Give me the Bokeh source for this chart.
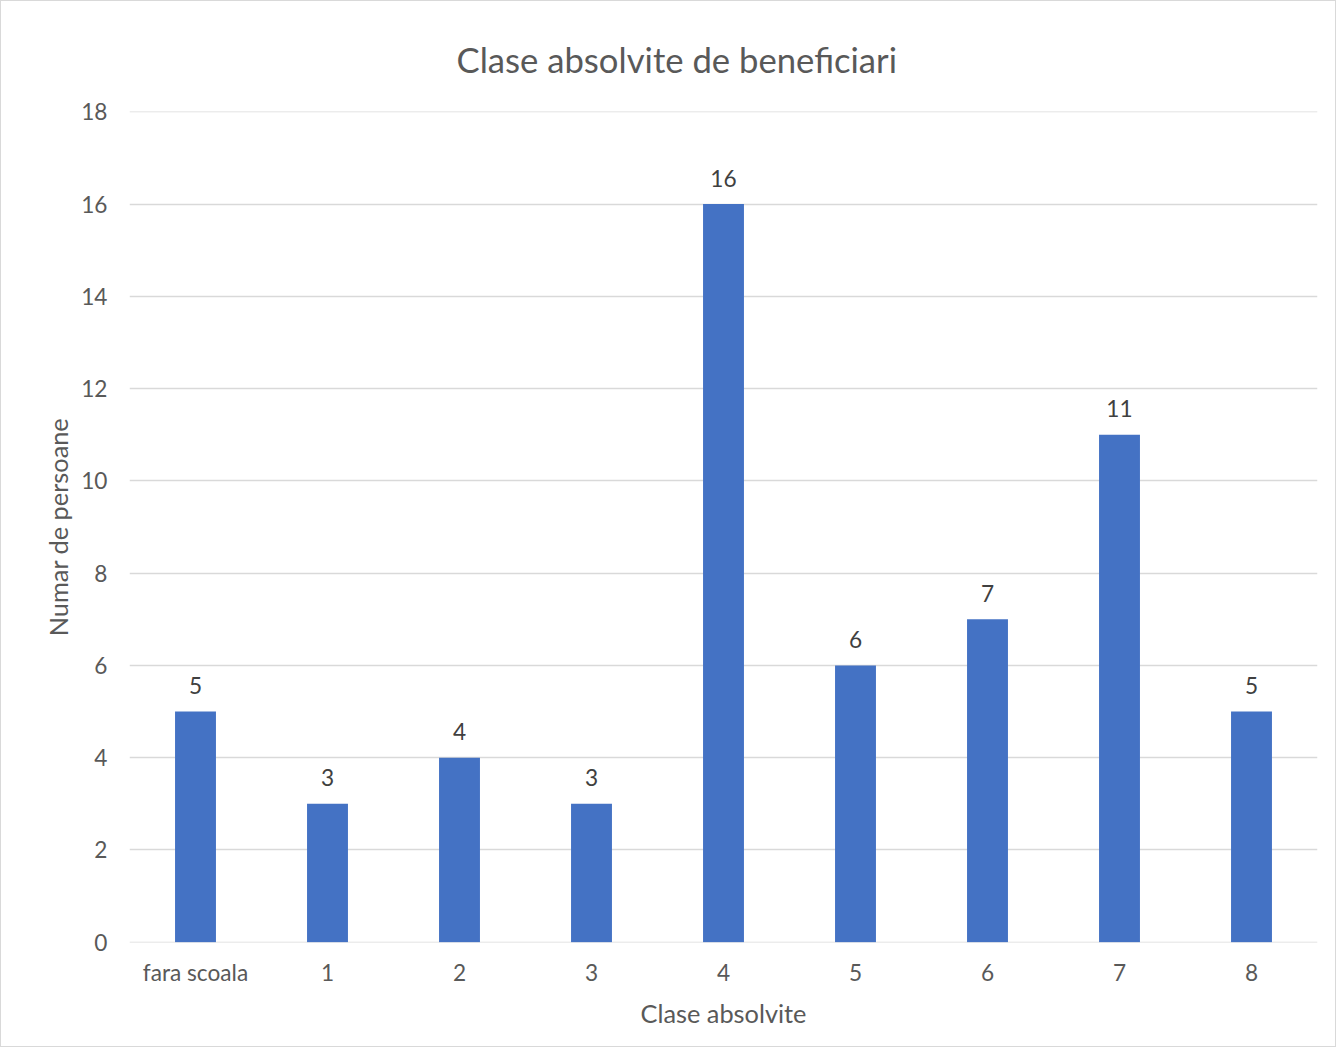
from bokeh.plotting import figure
from bokeh.models import ColumnDataSource, LabelSet, Range1d, FixedTicker
from bokeh.core.properties import value
from bokeh.embed import file_html
from bokeh.resources import INLINE

categories = ["fara scoala", "1", "2", "3", "4", "5", "6", "7", "8"]
values = [5, 3, 4, 3, 16, 6, 7, 11, 5]
y_ticks = [0, 2, 4, 6, 8, 10, 12, 14, 16, 18]

FONT = "Lato"
TXT = "#595959"

src = ColumnDataSource(data=dict(cat=categories, val=values, lab=[str(v) for v in values]))

p = figure(x_range=categories, y_range=Range1d(-0.005, 18.005), width=1336, height=1047,
           output_backend="svg", toolbar_location=None,
           title="Clase absolvite de beneficiari",
           min_border_left=128, min_border_right=20, min_border_top=110, min_border_bottom=106)
p.styles = {"border": "1px solid #d9d9d9"}

p.title.align = "left"
p.title.offset = 327
p.title.standoff = 64
p.title.text_font = FONT
p.title.text_font_size = "26pt"
p.title.text_font_style = "normal"
p.title.text_color = TXT

p.vbar(x="cat", top="val", width=0.31, source=src, color="#4472C4", line_color=None)

labels = LabelSet(x="cat", y="val", text="lab", source=src, y_offset=26,
                  text_align="center", text_baseline="middle",
                  text_font=value(FONT), text_font_size="17pt", text_color="#404040")
p.add_layout(labels)

p.yaxis.ticker = FixedTicker(ticks=y_ticks)
p.ygrid.ticker = FixedTicker(ticks=y_ticks)
p.xgrid.grid_line_color = None
p.ygrid.grid_line_color = "#d9d9d9"
p.ygrid.grid_line_width = 1.5

for ax in (p.xaxis, p.yaxis):
    ax.axis_line_color = None
    ax.major_tick_line_color = None
    ax.minor_tick_line_color = None
    ax.major_label_text_font = FONT
    ax.major_label_text_font_size = "17pt"
    ax.major_label_text_color = TXT
    ax.axis_label_text_font = FONT
    ax.axis_label_text_font_size = "19pt"
    ax.axis_label_text_color = TXT
    ax.axis_label_text_font_style = "normal"

p.yaxis.major_label_standoff = 16
p.xaxis.major_label_standoff = 10
p.xaxis.axis_label = "Clase absolvite"
p.yaxis.axis_label = "Numar de persoane"
p.xaxis.axis_label_standoff = 9
p.yaxis.axis_label_standoff = 5
p.outline_line_color = None
p.x_range.range_padding = 0

open("out.html", "w").write(file_html(p, INLINE))
